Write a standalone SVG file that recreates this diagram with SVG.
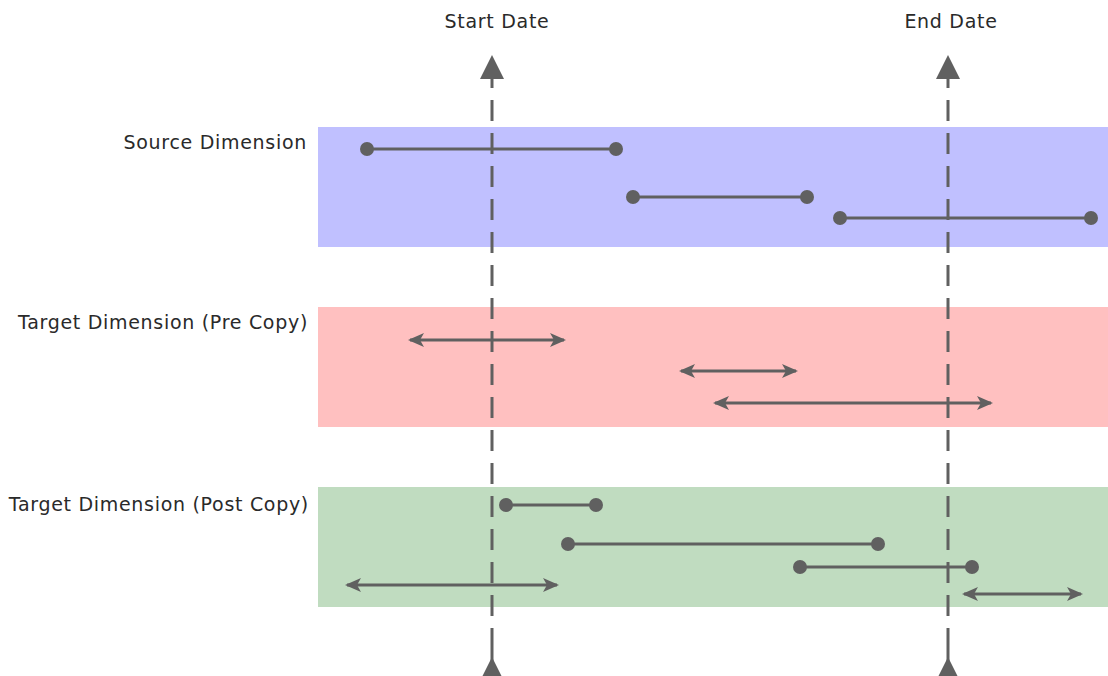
<svg xmlns="http://www.w3.org/2000/svg" width="1108" height="676" viewBox="0 0 1108 676">
  <style>
    .lbl { font-family: "DejaVu Sans", Verdana, sans-serif; font-size: 19px; letter-spacing: 0.7px; fill: #2a2a2a; }
    .bar { stroke: #606060; stroke-width: 3; fill: none; }
    .dot { fill: #606060; }
    .dash { stroke: #606060; stroke-width: 3; stroke-dasharray: 21 12; fill: none; }
    .head { fill: #606060; }
  </style>
  <defs>
    <marker id="arr" viewBox="0 0 16 14" refX="14" refY="7" markerWidth="16" markerHeight="14" markerUnits="userSpaceOnUse" orient="auto-start-reverse">
      <path d="M0,0 L16,7 L0,14 L4,7 Z" class="head"/>
    </marker>
  </defs>

  <!-- bands -->
  <g id="source-band">
    <rect x="318" y="127" width="790" height="120" fill="#c0c0ff"/>
    <text class="lbl" x="307" y="149" text-anchor="end">Source Dimension</text>
  </g>
  <g id="target-pre-band">
    <rect x="318" y="307" width="790" height="120" fill="#ffc0c0"/>
    <text class="lbl" x="308" y="329" text-anchor="end">Target Dimension (Pre Copy)</text>
  </g>
  <g id="target-post-band">
    <rect x="318" y="487" width="790" height="120" fill="#c0dcc0"/>
    <text class="lbl" x="309" y="511" text-anchor="end">Target Dimension (Post Copy)</text>
  </g>

  <!-- date markers -->
  <g id="start-date">
    <text class="lbl" x="497" y="28" text-anchor="middle">Start Date</text>
    <line class="dash" x1="492" y1="100" x2="492" y2="645"/>
    <line class="bar" x1="492" y1="75" x2="492" y2="88"/>
    <path class="head" d="M492,55 L504,79 L480,79 Z"/>
    <line class="bar" x1="492" y1="645" x2="492" y2="665"/>
    <path class="head" d="M492,657 L504,681 L480,681 Z"/>
  </g>
  <g id="end-date">
    <text class="lbl" x="951" y="28" text-anchor="middle">End Date</text>
    <line class="dash" x1="948" y1="100" x2="948" y2="645"/>
    <line class="bar" x1="948" y1="75" x2="948" y2="88"/>
    <path class="head" d="M948,55 L960,79 L936,79 Z"/>
    <line class="bar" x1="948" y1="645" x2="948" y2="665"/>
    <path class="head" d="M948,657 L960,681 L936,681 Z"/>
  </g>

  <!-- intervals -->
  <g id="connectors">
    <g id="source-intervals">
      <line class="bar" x1="367" y1="149" x2="616" y2="149"/>
      <circle class="dot" cx="367" cy="149" r="7"/><circle class="dot" cx="616" cy="149" r="7"/>
      <line class="bar" x1="633" y1="197" x2="807" y2="197"/>
      <circle class="dot" cx="633" cy="197" r="7"/><circle class="dot" cx="807" cy="197" r="7"/>
      <line class="bar" x1="840" y1="218" x2="1091" y2="218"/>
      <circle class="dot" cx="840" cy="218" r="7"/><circle class="dot" cx="1091" cy="218" r="7"/>
    </g>
    <g id="pre-intervals">
      <line class="bar" x1="410" y1="340" x2="564" y2="340" marker-start="url(#arr)" marker-end="url(#arr)"/>
      <line class="bar" x1="681" y1="371" x2="796" y2="371" marker-start="url(#arr)" marker-end="url(#arr)"/>
      <line class="bar" x1="715" y1="403" x2="991" y2="403" marker-start="url(#arr)" marker-end="url(#arr)"/>
    </g>
    <g id="post-intervals">
      <line class="bar" x1="506" y1="505" x2="596" y2="505"/>
      <circle class="dot" cx="506" cy="505" r="7"/><circle class="dot" cx="596" cy="505" r="7"/>
      <line class="bar" x1="568" y1="544" x2="878" y2="544"/>
      <circle class="dot" cx="568" cy="544" r="7"/><circle class="dot" cx="878" cy="544" r="7"/>
      <line class="bar" x1="800" y1="567" x2="972" y2="567"/>
      <circle class="dot" cx="800" cy="567" r="7"/><circle class="dot" cx="972" cy="567" r="7"/>
      <line class="bar" x1="347" y1="585" x2="557" y2="585" marker-start="url(#arr)" marker-end="url(#arr)"/>
      <line class="bar" x1="964" y1="594" x2="1081" y2="594" marker-start="url(#arr)" marker-end="url(#arr)"/>
    </g>
  </g>
</svg>
